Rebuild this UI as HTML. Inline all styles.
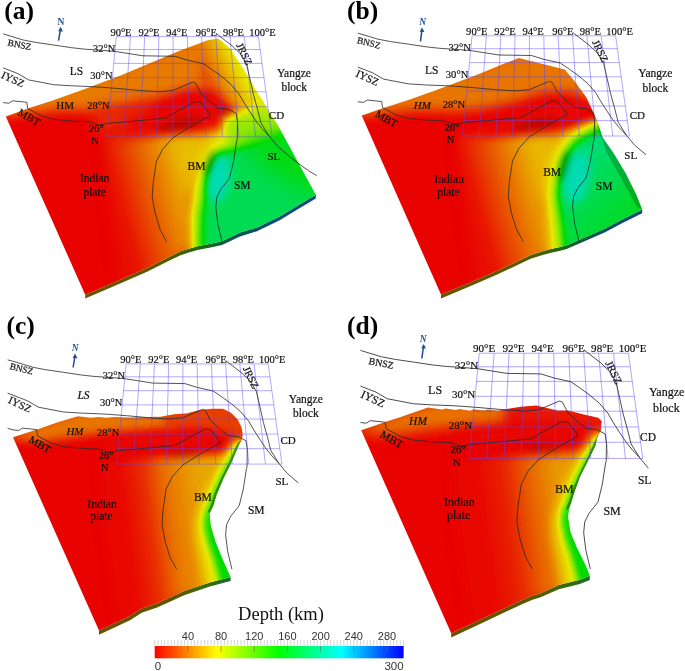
<!DOCTYPE html>
<html><head><meta charset="utf-8"><style>
html,body{margin:0;padding:0;background:#fff;width:685px;height:671px;overflow:hidden}
svg{display:block}
.sf{font-family:"Liberation Serif",serif}
.ss{font-family:"Liberation Sans",sans-serif}
</style></head><body>
<svg width="685" height="671" viewBox="0 0 685 671">
<defs>
<filter id="cmap" x="-5%" y="-5%" width="110%" height="110%" color-interpolation-filters="sRGB">
<feComponentTransfer>
<feFuncR type="table" tableValues="0.910 0.910 0.910 0.910 0.607 0.295 0.000 0.000 0.000 0.000"/>
<feFuncG type="table" tableValues="0.000 0.303 0.607 0.910 0.910 0.885 0.860 0.860 0.860 0.860"/>
<feFuncB type="table" tableValues="0.000 0.000 0.000 0.000 0.000 0.000 0.000 0.287 0.573 0.860"/>
</feComponentTransfer></filter>
<filter id="nop" x="-0.1" y="-0.1" width="1.2" height="1.2"><feOffset dx="0" dy="0"/></filter>
<filter id="b1" x="-50%" y="-50%" width="200%" height="200%" color-interpolation-filters="sRGB"><feGaussianBlur stdDeviation="1"/></filter>
<filter id="b2" x="-50%" y="-50%" width="200%" height="200%" color-interpolation-filters="sRGB"><feGaussianBlur stdDeviation="2"/></filter>
<filter id="b3" x="-50%" y="-50%" width="200%" height="200%" color-interpolation-filters="sRGB"><feGaussianBlur stdDeviation="3"/></filter>
<filter id="b4" x="-50%" y="-50%" width="200%" height="200%" color-interpolation-filters="sRGB"><feGaussianBlur stdDeviation="4"/></filter>
<filter id="b5" x="-50%" y="-50%" width="200%" height="200%" color-interpolation-filters="sRGB"><feGaussianBlur stdDeviation="5"/></filter>
<filter id="b6" x="-50%" y="-50%" width="200%" height="200%" color-interpolation-filters="sRGB"><feGaussianBlur stdDeviation="6"/></filter>
<filter id="b7" x="-50%" y="-50%" width="200%" height="200%" color-interpolation-filters="sRGB"><feGaussianBlur stdDeviation="7"/></filter>
<filter id="b8" x="-50%" y="-50%" width="200%" height="200%" color-interpolation-filters="sRGB"><feGaussianBlur stdDeviation="8"/></filter>
<filter id="b9" x="-50%" y="-50%" width="200%" height="200%" color-interpolation-filters="sRGB"><feGaussianBlur stdDeviation="9"/></filter>
<filter id="b10" x="-50%" y="-50%" width="200%" height="200%" color-interpolation-filters="sRGB"><feGaussianBlur stdDeviation="10"/></filter>
<filter id="b11" x="-50%" y="-50%" width="200%" height="200%" color-interpolation-filters="sRGB"><feGaussianBlur stdDeviation="11"/></filter>
<filter id="b12" x="-50%" y="-50%" width="200%" height="200%" color-interpolation-filters="sRGB"><feGaussianBlur stdDeviation="12"/></filter>
<filter id="b13" x="-50%" y="-50%" width="200%" height="200%" color-interpolation-filters="sRGB"><feGaussianBlur stdDeviation="13"/></filter>
<filter id="b14" x="-50%" y="-50%" width="200%" height="200%" color-interpolation-filters="sRGB"><feGaussianBlur stdDeviation="14"/></filter>
<filter id="b15" x="-50%" y="-50%" width="200%" height="200%" color-interpolation-filters="sRGB"><feGaussianBlur stdDeviation="15"/></filter>
<filter id="b16" x="-50%" y="-50%" width="200%" height="200%" color-interpolation-filters="sRGB"><feGaussianBlur stdDeviation="16"/></filter>
<filter id="b17" x="-50%" y="-50%" width="200%" height="200%" color-interpolation-filters="sRGB"><feGaussianBlur stdDeviation="17"/></filter>
<filter id="b18" x="-50%" y="-50%" width="200%" height="200%" color-interpolation-filters="sRGB"><feGaussianBlur stdDeviation="18"/></filter>
<filter id="b19" x="-50%" y="-50%" width="200%" height="200%" color-interpolation-filters="sRGB"><feGaussianBlur stdDeviation="19"/></filter>
<filter id="b20" x="-50%" y="-50%" width="200%" height="200%" color-interpolation-filters="sRGB"><feGaussianBlur stdDeviation="20"/></filter>
<filter id="b21" x="-50%" y="-50%" width="200%" height="200%" color-interpolation-filters="sRGB"><feGaussianBlur stdDeviation="21"/></filter>
<filter id="b22" x="-50%" y="-50%" width="200%" height="200%" color-interpolation-filters="sRGB"><feGaussianBlur stdDeviation="22"/></filter>
<filter id="b23" x="-50%" y="-50%" width="200%" height="200%" color-interpolation-filters="sRGB"><feGaussianBlur stdDeviation="23"/></filter>
<filter id="b24" x="-50%" y="-50%" width="200%" height="200%" color-interpolation-filters="sRGB"><feGaussianBlur stdDeviation="24"/></filter>
<filter id="b25" x="-50%" y="-50%" width="200%" height="200%" color-interpolation-filters="sRGB"><feGaussianBlur stdDeviation="25"/></filter>
<linearGradient id="dg1" gradientUnits="userSpaceOnUse" x1="118" y1="205" x2="190" y2="185"><stop offset="0" stop-color="#050505"/><stop offset="0.45" stop-color="#222222"/><stop offset="1" stop-color="#464646"/></linearGradient>
<linearGradient id="dg2" gradientUnits="userSpaceOnUse" x1="220" y1="112" x2="255" y2="95"><stop offset="0" stop-color="#191919"/><stop offset="1" stop-color="#585858"/></linearGradient>
<clipPath id="clipA"><polygon points="5.8,116.6 29.2,108.0 52.6,100.6 80.0,90.8 120.0,75.8 149.2,63.6 178.4,51.2 207.6,40.2 218.0,38.5 222.0,41.5 230.4,49.0 238.0,60.4 246.5,73.7 255.0,88.8 262.6,100.2 270.2,113.5 277.8,125.0 294.9,156.4 315.8,194.7 297.0,206.0 279.7,216.5 257.0,227.5 240.0,232.6 222.0,241.2 210.6,243.8 197.5,246.2 188.0,249.0 180.0,251.6 170.0,256.5 147.1,267.9 116.7,281.2 85.2,294.7"/></clipPath>
<linearGradient id="skA" gradientUnits="userSpaceOnUse" x1="85" y1="0" x2="316" y2="0"><stop offset="0" stop-color="#6b5400"/><stop offset="0.28" stop-color="#5e5800"/><stop offset="0.43" stop-color="#3c6200"/><stop offset="0.52" stop-color="#1a6a15"/><stop offset="0.6" stop-color="#0e5c40"/><stop offset="0.75" stop-color="#0e506a"/><stop offset="1" stop-color="#184a80"/></linearGradient>
<linearGradient id="dg3" gradientUnits="userSpaceOnUse" x1="120" y1="210" x2="190" y2="190"><stop offset="0" stop-color="#050505"/><stop offset="0.45" stop-color="#222222"/><stop offset="1" stop-color="#444444"/></linearGradient>
<linearGradient id="dg4" gradientUnits="userSpaceOnUse" x1="220" y1="165" x2="275" y2="225"><stop offset="0" stop-color="#d7d7d7"/><stop offset="1" stop-color="#b5b5b5"/></linearGradient>
<clipPath id="clipB"><polygon points="361.7,115.6 385.0,107.5 408.4,100.1 435.8,90.3 475.8,75.3 505.0,63.3 518.8,58.0 564.8,69.6 576.0,82.9 586.3,97.2 593.4,112.6 597.4,120.9 602.6,137.6 613.0,152.2 625.5,173.0 636.0,193.9 642.2,209.5 622.0,219.5 604.6,228.7 577.7,240.4 566.0,245.5 558.0,247.4 550.9,249.0 541.0,251.8 530.7,255.0 497.2,270.7 472.5,281.4 441.0,294.6"/></clipPath>
<linearGradient id="skB" gradientUnits="userSpaceOnUse" x1="441" y1="0" x2="642" y2="0"><stop offset="0" stop-color="#6b5400"/><stop offset="0.4" stop-color="#5e5800"/><stop offset="0.52" stop-color="#3c6200"/><stop offset="0.6" stop-color="#1a6a15"/><stop offset="0.7" stop-color="#0e5c40"/><stop offset="0.85" stop-color="#0e506a"/><stop offset="1" stop-color="#184a80"/></linearGradient>
<linearGradient id="dg5" gradientUnits="userSpaceOnUse" x1="128" y1="535" x2="205" y2="525"><stop offset="0" stop-color="#030303"/><stop offset="0.3" stop-color="#111111"/><stop offset="0.55" stop-color="#292929"/><stop offset="1" stop-color="#3d3d3d"/></linearGradient>
<linearGradient id="dg6" gradientUnits="userSpaceOnUse" x1="0" y1="455" x2="0" y2="540"><stop offset="0" stop-color="#8e8e8e"/><stop offset="1" stop-color="#acacac"/></linearGradient>
<clipPath id="clipC"><polygon points="13.0,437.2 39.4,428.7 57.0,422.6 77.8,416.3 91.1,417.8 98.7,416.9 106.3,417.8 113.9,416.9 130.0,417.4 145.0,417.0 160.0,416.7 175.8,414.1 186.3,413.6 199.4,410.1 212.5,408.8 223.0,408.8 231.0,412.8 237.5,419.3 241.5,427.2 242.8,435.1 241.8,440.0 239.4,444.3 231.1,463.4 223.9,477.7 216.8,494.4 213.2,506.3 209.6,513.5 210.8,525.4 215.6,542.1 221.5,556.4 229.9,575.5 230.6,576.9 209.8,582.4 184.8,590.7 157.1,603.2 141.7,608.6 130.0,616.1 99.0,630.6"/></clipPath>
<linearGradient id="skC" gradientUnits="userSpaceOnUse" x1="99" y1="0" x2="231" y2="0"><stop offset="0" stop-color="#6a5200"/><stop offset="0.6" stop-color="#5e5600"/><stop offset="0.8" stop-color="#3a6a08"/><stop offset="1" stop-color="#1f6a30"/></linearGradient>
<linearGradient id="dg7" gradientUnits="userSpaceOnUse" x1="132" y1="535" x2="206" y2="525"><stop offset="0" stop-color="#030303"/><stop offset="0.35" stop-color="#0e0e0e"/><stop offset="0.6" stop-color="#222222"/><stop offset="1" stop-color="#393939"/></linearGradient>
<clipPath id="clipD"><polygon points="361.2,430.2 386.7,421.4 400.0,417.2 428.0,407.5 442.0,409.6 445.5,408.4 456.0,410.1 459.6,408.9 470.0,410.7 473.6,409.3 484.1,410.5 487.6,409.6 498.1,410.7 505.0,409.3 520.8,406.7 536.5,405.4 547.0,408.0 557.5,410.6 568.0,410.6 583.8,414.6 598.3,417.7 601.7,421.2 600.9,430.4 597.0,438.2 595.6,445.8 587.7,461.5 579.8,477.3 573.3,495.7 569.3,508.8 568.0,516.7 570.6,532.5 577.2,548.2 585.1,564.0 589.8,575.8 579.8,579.8 558.8,585.0 540.0,593.4 532.5,595.5 522.0,600.0 480.0,619.7 451.2,633.2"/></clipPath>
<linearGradient id="skD" gradientUnits="userSpaceOnUse" x1="451" y1="0" x2="590" y2="0"><stop offset="0" stop-color="#6a5200"/><stop offset="0.6" stop-color="#5e5600"/><stop offset="0.8" stop-color="#3a6a08"/><stop offset="1" stop-color="#1f6a30"/></linearGradient>
<g id="ovA"><g><path d="M116.3,36.6 L258.4,36.6 M115.1,49.5 L260.2,49.5 M113.8,63.4 L262.1,63.4 M112.4,77.6 L264.0,77.6 M111.1,91.8 L265.9,91.8 M109.6,106.8 L268.0,106.8 M108.3,121.4 L270.0,121.4 M106.8,136.8 L272.1,136.8 M116.3,36.6 L106.8,136.8 M130.5,36.6 L123.3,136.8 M144.7,36.6 L139.9,136.8 M158.9,36.6 L156.4,136.8 M173.1,36.6 L172.9,136.8 M187.3,36.6 L189.4,136.8 M201.6,36.6 L206.0,136.8 M215.8,36.6 L222.5,136.8 M230.0,36.6 L239.0,136.8 M244.2,36.6 L255.6,136.8 M258.4,36.6 L272.1,136.8" stroke="#5a46ff" stroke-opacity="0.55" stroke-width="0.85" fill="none"/><g stroke="#2a2a2a" stroke-width="0.8" fill="none" stroke-linejoin="round"><path d="M3.2,33.9 L23.2,40.0 L35.8,42.4 L53.6,45.0 L71.5,47.7 L84.0,49.1 L96.6,49.9 L114.4,51.3 L142.9,55.8 L175.1,56.3 L187.6,60.2 L203.7,63.8 L212.6,70.0 L221.8,76.6 L231.0,84.5 L238.8,93.7 L244.1,102.8 L250.0,112.0 L256.0,121.0 L262.0,128.5 L269.2,136.2"/><path d="M216.1,33.4 L232.2,45.9 L241.1,54.5 L246.5,64.0 L249.2,75.4 L253.6,95.1 L257.7,110.0 L261.0,123.1 L269.2,136.2 L277.4,146.1"/><path d="M3.2,67.9 L17.9,73.6 L28.6,79.9 L53.6,84.7 L71.5,85.8 L89.4,86.5 L100.0,87.1 L117.9,88.5 L141.1,90.6 L160.0,91.7 L173.1,90.4 L192.8,82.1 L195.5,83.1 L200.7,93.0 L209.9,101.5 L217.8,108.1 L228.3,109.4 L236.2,113.4 L237.5,122.6 L237.2,140.0 L236.7,141.0 L233.5,161.7 L229.4,178.4 L221.0,188.9 L216.8,197.2 L215.8,207.6 L217.9,224.3 L222.1,242.0"/><path d="M3.2,102.6 L8.9,103.2 L12.5,100.8 L26.8,102.3 L27.7,108.5 L41.1,115.7 L53.6,119.3 L71.5,121.0 L89.4,121.9 L100.0,125.5 L107.2,123.4 L135.8,121.0 L160.0,118.6 L165.3,118.0 L195.5,101.5 L200.7,102.2 L210.6,114.7 L209.9,116.0 L202.2,120.0 L187.6,128.3 L173.0,137.7 L162.6,149.2 L156.3,161.7 L153.2,182.6 L152.2,197.2 L155.3,213.9 L160.5,230.6 L166.8,242.0"/></g><g class="sf" fill="#111" stroke="#111" stroke-width="0.2" filter="url(#nop)"><text x="110.4" y="35.5" font-size="10.5">90°E</text><text x="138.4" y="35.5" font-size="10.5">92°E</text><text x="166.2" y="35.5" font-size="10.5">94°E</text><text x="195.7" y="35.5" font-size="10.5">96°E</text><text x="222.9" y="35.5" font-size="10.5">98°E</text><text x="249.2" y="35.5" font-size="10.5">100°E</text><text x="93" y="51.5" font-size="10.5">32°N</text><text x="90.3" y="79" font-size="10.5">30°N</text><text x="87.3" y="109.2" font-size="10.5">28°N</text><text x="88.9" y="131.6" font-size="10.5">26°</text><text x="91.2" y="143.8" font-size="10.5">N</text></g></g></g>
<linearGradient id="cbar" x1="0" y1="0" x2="1" y2="0"><stop offset="0" stop-color="#ff0000"/><stop offset="0.25" stop-color="#ffff00"/><stop offset="0.5" stop-color="#00ff00"/><stop offset="0.75" stop-color="#00ffff"/><stop offset="1" stop-color="#0000ff"/></linearGradient>
</defs>
<rect width="685" height="671" fill="#fff"/>
<polygon points="315.8,194.7 297.0,206.0 279.7,216.5 257.0,227.5 240.0,232.6 222.0,241.2 210.6,243.8 197.5,246.2 188.0,249.0 180.0,251.6 170.0,256.5 147.1,267.9 116.7,281.2 85.2,294.7 85.2,298.5 116.7,285.0 147.1,271.7 170.0,260.3 180.0,255.4 188.0,252.8 197.5,250.0 210.6,247.6 222.0,245.0 240.0,236.4 257.0,231.3 279.7,220.3 297.0,209.8 315.8,198.5" fill="url(#skA)"/>
<g clip-path="url(#clipA)"><g filter="url(#cmap)"><g>
<g><polygon points="-50.0,0.0 400.0,0.0 400.0,400.0 -50.0,400.0" fill="#010101"/></g>
<g filter="url(#b6)"><polygon points="100.0,136.0 200.0,133.0 222.0,126.0 240.0,120.0 230.0,150.0 200.0,170.0 190.0,200.0 192.0,250.0 175.0,262.0 150.0,290.0 120.0,290.0 108.0,200.0" fill="url(#dg1)"/></g>
<g filter="url(#b6)"><polygon points="-10.0,108.0 150.0,55.0 213.0,25.0 214.0,60.0 212.0,88.0 190.0,88.0 170.0,94.0 150.0,101.0 125.0,108.0 100.0,111.0 60.0,110.0 30.0,113.0 5.0,116.0" fill="#2d2d2d"/></g>
<g filter="url(#b5)"><polygon points="200.0,20.0 300.0,20.0 300.0,125.0 262.0,126.0 245.0,130.0 232.0,122.0 222.0,100.0 210.0,88.0 200.0,80.0" fill="url(#dg2)"/></g>
<g filter="url(#b7)"><polygon points="95.0,108.0 150.0,100.0 150.0,128.0 95.0,132.0" fill="#101010"/></g>
<g filter="url(#b6)"><polygon points="125.0,118.0 150.0,112.0 190.0,99.0 215.0,98.0 230.0,106.0 234.0,116.0 220.0,122.0 180.0,127.0 150.0,132.0 125.0,135.0" fill="#030303"/></g>
<g filter="url(#b4)"><polygon points="190.0,260.0 188.0,215.0 192.0,180.0 201.0,155.0 214.0,139.0 238.0,128.0 262.0,118.0 285.0,114.0 285.0,124.0 268.0,127.0 250.0,134.0 226.0,148.0 212.0,163.0 204.0,185.0 201.0,215.0 204.0,260.0" fill="#565656"/></g>
<g filter="url(#b5)"><polygon points="222.0,118.0 260.0,108.0 285.0,112.0 290.0,138.0 250.0,142.0 228.0,146.0" fill="#6f6f6f"/></g>
<g filter="url(#b5)"><polygon points="199.0,260.0 199.0,215.0 204.0,182.0 212.0,162.0 223.0,150.0 240.0,144.0 255.0,141.0 268.0,139.0 282.0,133.0 340.0,122.0 340.0,280.0 199.0,280.0" fill="#cacaca"/></g>
<g filter="url(#b10)"><polygon points="240.0,140.0 285.0,135.0 340.0,120.0 340.0,200.0 300.0,190.0 262.0,165.0" fill="#b1b1b1"/></g>
<g filter="url(#b5)"><ellipse cx="219" cy="178" rx="11" ry="25" fill="#f0f0f0" transform="rotate(8 219 178)"/></g>
</g></g>
<g><g filter="url(#b3)" fill="#000"><ellipse cx="180" cy="124" rx="22" ry="5" transform="rotate(-12 180 124)" opacity="0.22"/><ellipse cx="226" cy="112" rx="8" ry="4" opacity="0.12"/><ellipse cx="209" cy="163" rx="4" ry="14" transform="rotate(18 209 163)" opacity="0.26"/></g></g>
</g>
<polygon points="642.2,209.5 622.0,219.5 604.6,228.7 577.7,240.4 566.0,245.5 558.0,247.4 550.9,249.0 541.0,251.8 530.7,255.0 497.2,270.7 472.5,281.4 441.0,294.6 441.0,298.4 472.5,285.2 497.2,274.5 530.7,258.8 541.0,255.6 550.9,252.8 558.0,251.2 566.0,249.3 577.7,244.2 604.6,232.5 622.0,223.3 642.2,213.3" fill="url(#skB)"/>
<g clip-path="url(#clipB)"><g filter="url(#cmap)"><g transform="translate(355.8,0)">
<g><polygon points="-50.0,0.0 400.0,0.0 400.0,400.0 -50.0,400.0" fill="#010101"/></g>
<g filter="url(#b6)"><polygon points="100.0,136.0 200.0,133.0 222.0,127.0 240.0,121.0 230.0,150.0 200.0,170.0 190.0,200.0 198.0,250.0 185.0,262.0 150.0,290.0 120.0,290.0 108.0,200.0" fill="url(#dg3)"/></g>
<g filter="url(#b6)"><polygon points="-10.0,108.0 150.0,55.0 213.0,25.0 250.0,60.0 245.0,100.0 232.0,100.0 215.0,93.0 190.0,92.0 170.0,98.0 150.0,104.0 125.0,109.0 100.0,111.0 60.0,110.0 30.0,113.0 5.0,116.0" fill="#2b2b2b"/></g>
<g filter="url(#b5)"><polygon points="125.0,123.0 150.0,118.0 190.0,105.0 215.0,99.0 230.0,104.0 234.0,114.0 220.0,121.0 180.0,129.0 150.0,134.0 125.0,136.0" fill="#030303"/></g>
<g filter="url(#b4)"><polygon points="193.0,262.0 190.0,225.0 187.0,195.0 190.0,175.0 197.0,154.0 209.0,138.0 228.0,126.0 245.0,118.0 260.0,112.0 260.0,128.0 240.0,132.0 222.0,142.0 210.0,162.0 203.0,175.0 199.0,195.0 204.0,225.0 208.0,262.0" fill="#565656"/></g>
<g filter="url(#b5)"><polygon points="206.0,262.0 203.0,225.0 199.0,195.0 202.0,178.0 208.0,158.0 218.0,142.0 233.0,133.0 250.0,124.0 340.0,120.0 340.0,280.0 206.0,280.0" fill="url(#dg4)"/></g>
<g filter="url(#b5)"><ellipse cx="221" cy="178" rx="12" ry="26" fill="#f0f0f0" transform="rotate(10 221 178)"/></g>
</g></g>
<g transform="translate(355.8,0)"><g filter="url(#b3)" fill="#000"><ellipse cx="180" cy="124" rx="22" ry="5" transform="rotate(-12 180 124)" opacity="0.18"/><ellipse cx="208" cy="166" rx="4" ry="16" transform="rotate(15 208 166)" opacity="0.28"/></g></g>
</g>
<polygon points="597,122 602.6,137.6 613,152.2 625.5,173 636,193.9 642.2,209.5 637,207 622,180 607,153 599,132" fill="#0a4a00" opacity="0.3"/>
<polygon points="230.6,576.9 209.8,582.4 184.8,590.7 157.1,603.2 141.7,608.6 130.0,616.1 99.0,630.6 99.0,634.8 130.0,620.3 141.7,612.8 157.1,607.4 184.8,594.9 209.8,586.6 230.6,581.1" fill="url(#skC)"/>
<g clip-path="url(#clipC)"><g filter="url(#cmap)"><g>
<g><polygon points="-50.0,300.0 400.0,300.0 400.0,700.0 -50.0,700.0" fill="#010101"/></g>
<g filter="url(#b5)"><polygon points="100.0,460.0 240.0,453.0 225.0,480.0 212.0,500.0 205.0,540.0 212.0,590.0 175.0,600.0 150.0,620.0 120.0,640.0 105.0,540.0" fill="url(#dg5)"/></g>
<g filter="url(#b5)"><polygon points="0.0,438.0 80.0,410.0 160.0,410.0 175.0,408.0 172.0,428.0 120.0,432.0 80.0,436.0 40.0,442.0" fill="#2b2b2b"/></g>
<g filter="url(#b5)"><polygon points="160.0,402.0 255.0,402.0 255.0,440.0 232.0,436.0 200.0,430.0 165.0,430.0" fill="#171717"/></g>
<g filter="url(#b5)"><polygon points="100.0,438.0 150.0,434.0 200.0,430.0 224.0,432.0 226.0,439.0 212.0,445.0 180.0,448.0 130.0,450.0 100.0,452.0" fill="#030303"/></g>
<g filter="url(#b5)"><polygon points="233.0,440.0 221.0,463.0 213.0,478.0 205.0,494.0 201.0,506.0 198.0,514.0 196.0,525.0 197.0,542.0 200.0,556.0 204.0,578.0 207.0,600.0 260.0,600.0 260.0,440.0" fill="#565656"/></g>
<g filter="url(#b3)"><polygon points="238.0,444.0 227.0,463.0 219.5,478.0 212.5,494.0 208.5,506.0 205.0,514.0 204.0,525.0 208.0,542.0 213.0,556.0 219.0,578.0 223.0,600.0 260.0,600.0 260.0,444.0" fill="url(#dg6)"/></g>
</g></g>
<g><g filter="url(#b3)" fill="#000"><ellipse cx="185" cy="455" rx="16" ry="4" opacity="0.14"/></g><polygon points="241.8,440 239.4,444.3 231.1,463.4 223.9,477.7 216.8,494.4 213.2,506.3 209.6,513.5 208,511.5 211.3,504 214.6,493 221.8,476.5 229,462.4 237.6,443" fill="#1e6a0c" opacity="0.7"/></g>
</g>
<polygon points="589.8,575.8 579.8,579.8 558.8,585.0 540.0,593.4 532.5,595.5 522.0,600.0 480.0,619.7 451.2,633.2 451.2,637.4 480.0,623.9 522.0,604.2 532.5,599.7 540.0,597.6 558.8,589.2 579.8,584.0 589.8,580.0" fill="url(#skD)"/>
<g clip-path="url(#clipD)"><g filter="url(#cmap)"><g transform="translate(347.55,-28.86) scale(1.05)">
<g><polygon points="-50.0,300.0 400.0,300.0 400.0,700.0 -50.0,700.0" fill="#010101"/></g>
<g filter="url(#b5)"><polygon points="100.0,464.0 240.0,457.0 225.0,480.0 212.0,500.0 205.0,540.0 212.0,590.0 175.0,600.0 150.0,620.0 120.0,640.0 105.0,540.0" fill="url(#dg7)"/></g>
<g filter="url(#b6)"><polygon points="0.0,438.0 80.0,410.0 140.0,410.0 155.0,408.0 150.0,430.0 120.0,433.0 80.0,436.0 40.0,442.0" fill="#2b2b2b"/></g>
<g filter="url(#b6)"><polygon points="150.0,402.0 255.0,402.0 255.0,440.0 232.0,436.0 200.0,430.0 160.0,430.0" fill="#0a0a0a"/></g>
<g filter="url(#b5)"><polygon points="100.0,438.0 150.0,434.0 200.0,430.0 224.0,432.0 226.0,439.0 212.0,445.0 180.0,448.0 130.0,450.0 100.0,452.0" fill="#030303"/></g>
<g filter="url(#b5)"><polygon points="233.0,440.0 221.0,463.0 213.0,478.0 205.0,494.0 201.0,506.0 198.0,514.0 196.0,525.0 197.0,542.0 200.0,556.0 204.0,578.0 207.0,600.0 260.0,600.0 260.0,440.0" fill="#565656"/></g>
<g filter="url(#b3)"><polygon points="238.0,444.0 227.0,463.0 219.5,478.0 212.5,494.0 208.5,506.0 205.0,514.0 204.0,525.0 208.0,542.0 213.0,556.0 219.0,578.0 223.0,600.0 260.0,600.0 260.0,444.0" fill="url(#dg6)"/></g>
</g></g>
<g transform="translate(347.55,-28.86) scale(1.05)"><g filter="url(#b3)" fill="#000"><ellipse cx="185" cy="455" rx="16" ry="4" opacity="0.14"/></g><polygon points="241.8,440 239.4,444.3 231.1,463.4 223.9,477.7 216.8,494.4 213.2,506.3 209.6,513.5 208,511.5 211.3,504 214.6,493 221.8,476.5 229,462.4 237.6,443" fill="#1e6a0c" opacity="0.7"/></g>
</g>
<use href="#ovA"/>
<use href="#ovA" transform="translate(354.6,-0.8) scale(1.01,1)"/>
<use href="#ovA" transform="translate(9.8,327.3)"/>
<use href="#ovA" transform="translate(346.8,-28.86) scale(1.05) translate(9.8,327.3)"/>
<path d="M277.4,146.1 L288.9,155.9 L297,162.5 L308.5,170.7 L316.7,175.6" stroke="#2a2a2a" stroke-width="0.8" fill="none"/>
<g transform="translate(354.6,-0.8) scale(1.01,1)"><path d="M277.4,146.1 L288.5,155.5" stroke="#2a2a2a" stroke-width="0.8" fill="none"/></g>
<g transform="translate(9.8,327.3)"><path d="M277.4,146.1 L288.5,155.5" stroke="#2a2a2a" stroke-width="0.8" fill="none"/></g>
<g stroke="#2a2a2a" stroke-width="0.8" fill="none"><path d="M7.6,359.9 L13,361.2 M7.6,393.1 L13,395.2 M7.6,428.3 L13,429.9"/></g>
<g class="sf" fill="#111" stroke="#111" stroke-width="0.2" filter="url(#nop)"><text x="69.7" y="75.3" font-size="11.5">LS</text><text x="56.3" y="109.3" font-size="11">HM</text><text x="187.6" y="169.9" font-size="11.5">BM</text><text x="233.9" y="189.4" font-size="11.5">SM</text><text x="267.5" y="160" font-size="11">SL</text><text x="268.8" y="119.2" font-size="11">CD</text><text x="276.9" y="76.8" font-size="11.5">Yangze</text><text x="281.4" y="91.3" font-size="11.5">block</text><text x="79.9" y="181.9" font-size="11.5">Indian</text><text x="83.4" y="195.9" font-size="11.5">plate</text><text x="7.3" y="45.5" font-size="9.3" transform="rotate(11 7.3 45.5)">BNSZ</text><text x="0.5" y="77.5" font-size="10.8" transform="rotate(25 0.5 77.5)">IYSZ</text><text x="17.1" y="114.5" font-size="10.8" transform="rotate(30 17.1 114.5)">MBT</text><text x="236" y="45" font-size="10.5" transform="rotate(64 236 45)">JRSZ</text><text x="424.9" y="73.8" font-size="11.5">LS</text><text x="413.7" y="109" font-size="11" font-style="italic">HM</text><text x="543.2" y="176" font-size="11.5">BM</text><text x="595.8" y="189.5" font-size="11.5">SM</text><text x="624.3" y="159.3" font-size="11">SL</text><text x="629.7" y="119.3" font-size="11">CD</text><text x="638.3" y="77.1" font-size="11.5">Yangze</text><text x="642.6" y="92.3" font-size="11.5">block</text><text x="434.5" y="182.6" font-size="11.5">Indian</text><text x="437.3" y="196.1" font-size="11.5">plate</text><text x="356.5" y="43" font-size="9.3" transform="rotate(14 356.5 43)">BNSZ</text><text x="355" y="76" font-size="10.8" transform="rotate(25 355 76)">IYSZ</text><text x="374.4" y="116" font-size="10.8" transform="rotate(30 374.4 116)">MBT</text><text x="592" y="42" font-size="10.5" transform="rotate(64 592 42)">JRSZ</text><text x="77.4" y="399.2" font-size="11.5" font-style="italic">LS</text><text x="66.4" y="434.9" font-size="11" font-style="italic">HM</text><text x="193.9" y="500.9" font-size="11.5">BM</text><text x="247.9" y="514.4" font-size="11.5">SM</text><text x="275.4" y="484.8" font-size="11">SL</text><text x="280.5" y="444.3" font-size="11">CD</text><text x="288.8" y="402.9" font-size="11.5">Yangze</text><text x="293.1" y="417.2" font-size="11.5">block</text><text x="87.3" y="507.6" font-size="11.5">Indian</text><text x="90.2" y="519.6" font-size="11.5">plate</text><text x="9.3" y="369" font-size="9.3" transform="rotate(14 9.3 369)">BNSZ</text><text x="7.5" y="402.6" font-size="10.8" transform="rotate(25 7.5 402.6)">IYSZ</text><text x="27.9" y="441.8" font-size="10.8" transform="rotate(30 27.9 441.8)">MBT</text><text x="242.7" y="368.5" font-size="10.5" transform="rotate(64 242.7 368.5)">JRSZ</text><text x="428.1" y="394" font-size="12">LS</text><text x="409.1" y="425.1" font-size="11.5" font-style="italic">HM</text><text x="555.1" y="493.2" font-size="12">BM</text><text x="603.4" y="515" font-size="12">SM</text><text x="637.9" y="483.8" font-size="11.5">SL</text><text x="640.1" y="440.8" font-size="11.5">CD</text><text x="648.9" y="396" font-size="12">Yangze</text><text x="653" y="412.1" font-size="12">block</text><text x="444.1" y="505.5" font-size="12">Indian</text><text x="447" y="519.2" font-size="12">plate</text><text x="368.3" y="364" font-size="9.8" transform="rotate(11 368.3 364)">BNSZ</text><text x="360" y="397" font-size="11.3" transform="rotate(25 360 397)">IYSZ</text><text x="379.3" y="436.5" font-size="11.3" transform="rotate(30 379.3 436.5)">MBT</text><text x="605" y="363" font-size="11" transform="rotate(64 605 363)">JRSZ</text></g>
<g fill="#1f4f8f" stroke="#1f4f8f"><path d="M58.5,40.7 L60.300000000000004,30.3" stroke-width="1.5" fill="none"/><path d="M60.6,26.8 L58.1,31.200000000000003 L62.9,31.4 Z" stroke="none"/><text x="57.6" y="24.8" font-size="9.5" font-weight="bold" stroke="none" class="sf" filter="url(#nop)">N</text></g>
<g fill="#1f4f8f" stroke="#1f4f8f"><path d="M420.5,41.3 L421.8,30.9" stroke-width="1.5" fill="none"/><path d="M422.1,27.4 L419.6,31.799999999999997 L424.40000000000003,32.0 Z" stroke="none"/><text x="419.2" y="24.9" font-size="9.5" font-weight="bold" font-style="italic" stroke="none" class="sf" filter="url(#nop)">N</text></g>
<g fill="#1f4f8f" stroke="#1f4f8f"><path d="M73.1,367.5 L74.8,357.1" stroke-width="1.5" fill="none"/><path d="M75.1,353.6 L72.6,358.0 L77.39999999999999,358.20000000000005 Z" stroke="none"/><text x="71.8" y="351.4" font-size="9.5" font-weight="bold" font-style="italic" stroke="none" class="sf" filter="url(#nop)">N</text></g>
<g fill="#1f4f8f" stroke="#1f4f8f"><path d="M421.8,358.5 L423.4,347.4" stroke-width="1.5" fill="none"/><path d="M423.7,343.9 L421.2,348.29999999999995 L426.0,348.5 Z" stroke="none"/><text x="419.8" y="342.3" font-size="9.5" font-weight="bold" font-style="italic" stroke="none" class="sf" filter="url(#nop)">N</text></g>
<rect x="154.7" y="646" width="248.9" height="12.3" fill="url(#cbar)"/>
<path d="M154.70,640 V645.5 M158.02,640 V645.5 M161.34,640 V645.5 M164.66,640 V645.5 M167.97,640 V645.5 M171.29,640 V645.5 M174.61,640 V645.5 M177.93,640 V645.5 M181.25,640 V645.5 M184.57,640 V645.5 M187.89,640 V645.5 M191.21,640 V645.5 M194.52,640 V645.5 M197.84,640 V645.5 M201.16,640 V645.5 M204.48,640 V645.5 M207.80,640 V645.5 M211.12,640 V645.5 M214.44,640 V645.5 M217.75,640 V645.5 M221.07,640 V645.5 M224.39,640 V645.5 M227.71,640 V645.5 M231.03,640 V645.5 M234.35,640 V645.5 M237.67,640 V645.5 M240.99,640 V645.5 M244.30,640 V645.5 M247.62,640 V645.5 M250.94,640 V645.5 M254.26,640 V645.5 M257.58,640 V645.5 M260.90,640 V645.5 M264.22,640 V645.5 M267.53,640 V645.5 M270.85,640 V645.5 M274.17,640 V645.5 M277.49,640 V645.5 M280.81,640 V645.5 M284.13,640 V645.5 M287.45,640 V645.5 M290.77,640 V645.5 M294.08,640 V645.5 M297.40,640 V645.5 M300.72,640 V645.5 M304.04,640 V645.5 M307.36,640 V645.5 M310.68,640 V645.5 M314.00,640 V645.5 M317.31,640 V645.5 M320.63,640 V645.5 M323.95,640 V645.5 M327.27,640 V645.5 M330.59,640 V645.5 M333.91,640 V645.5 M337.23,640 V645.5 M340.55,640 V645.5 M343.86,640 V645.5 M347.18,640 V645.5 M350.50,640 V645.5 M353.82,640 V645.5 M357.14,640 V645.5 M360.46,640 V645.5 M363.78,640 V645.5 M367.09,640 V645.5 M370.41,640 V645.5 M373.73,640 V645.5 M377.05,640 V645.5 M380.37,640 V645.5 M383.69,640 V645.5 M387.01,640 V645.5 M390.33,640 V645.5 M393.64,640 V645.5 M396.96,640 V645.5 M400.28,640 V645.5 M403.60,640 V645.5" stroke="#c8c8c8" stroke-width="0.8" fill="none"/>
<path d="M187.89,646 V652 M221.07,646 V652 M254.26,646 V652 M287.45,646 V652 M320.63,646 V652 M353.82,646 V652 M387.01,646 V652" stroke="#6a6a6a" stroke-width="0.6" fill="none"/>
<text x="187.9" y="639.5" class="ss" font-size="11" text-anchor="middle" fill="#333" filter="url(#nop)">40</text>
<text x="221.1" y="639.5" class="ss" font-size="11" text-anchor="middle" fill="#333" filter="url(#nop)">80</text>
<text x="254.3" y="639.5" class="ss" font-size="11" text-anchor="middle" fill="#333" filter="url(#nop)">120</text>
<text x="287.4" y="639.5" class="ss" font-size="11" text-anchor="middle" fill="#333" filter="url(#nop)">160</text>
<text x="320.6" y="639.5" class="ss" font-size="11" text-anchor="middle" fill="#333" filter="url(#nop)">200</text>
<text x="353.8" y="639.5" class="ss" font-size="11" text-anchor="middle" fill="#333" filter="url(#nop)">240</text>
<text x="387.0" y="639.5" class="ss" font-size="11" text-anchor="middle" fill="#333" filter="url(#nop)">280</text>
<text x="154.7" y="670" class="ss" font-size="11.5" fill="#333" filter="url(#nop)">0</text>
<text x="403.6" y="670" class="ss" font-size="11.5" text-anchor="end" fill="#333" filter="url(#nop)">300</text>
<text x="281" y="620" class="sf" font-size="18.5" text-anchor="middle" fill="#111" filter="url(#nop)">Depth (km)</text>
<text x="4.2" y="19" class="sf" font-size="25.5" font-weight="bold" fill="#000" filter="url(#nop)">(a)</text>
<text x="347" y="19" class="sf" font-size="25.5" font-weight="bold" fill="#000" filter="url(#nop)">(b)</text>
<text x="6.4" y="333.8" class="sf" font-size="25.5" font-weight="bold" fill="#000" filter="url(#nop)">(c)</text>
<text x="347.1" y="333.8" class="sf" font-size="25.5" font-weight="bold" fill="#000" filter="url(#nop)">(d)</text>
</svg></body></html>
